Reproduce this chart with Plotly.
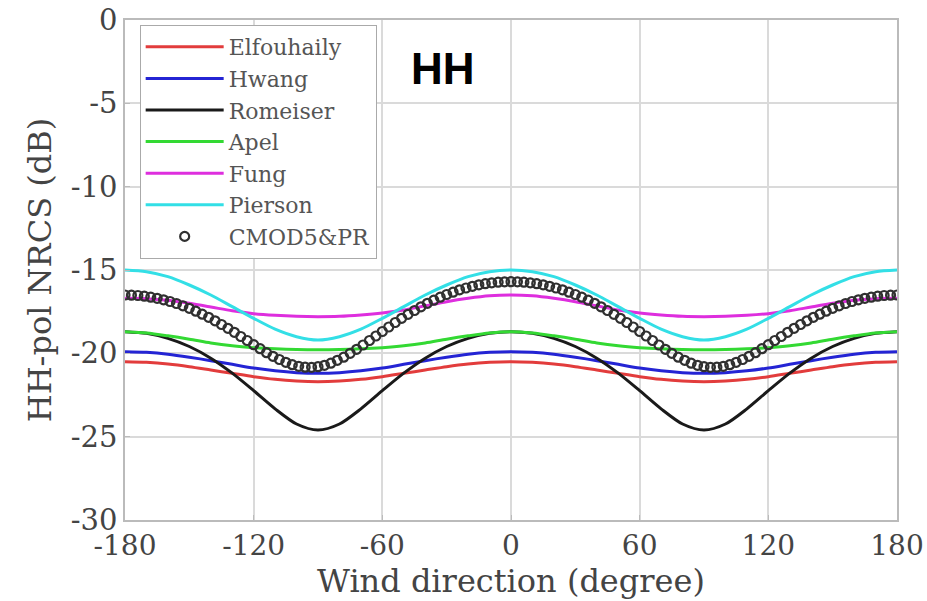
import plotly.graph_objects as go

# ---- data ----
angles_10 = list(range(-180, 181, 10))

elfouhaily = [-20.5, -20.54, -20.64, -20.8, -21.0, -21.2, -21.4, -21.56, -21.66, -21.7,
              -21.66, -21.56, -21.4, -21.2, -21.0, -20.8, -20.64, -20.54, -20.5,
              -20.54, -20.64, -20.8, -21.0, -21.2, -21.4, -21.56, -21.66, -21.7,
              -21.66, -21.56, -21.4, -21.2, -21.0, -20.8, -20.64, -20.54, -20.5]

hwang = [-19.9, -19.94, -20.05, -20.23, -20.44, -20.66, -20.88, -21.05, -21.16, -21.2,
         -21.16, -21.05, -20.88, -20.66, -20.44, -20.23, -20.05, -19.94, -19.9,
         -19.94, -20.05, -20.23, -20.44, -20.66, -20.88, -21.05, -21.16, -21.2,
         -21.16, -21.05, -20.88, -20.66, -20.44, -20.23, -20.05, -19.94, -19.9]

romeiser = [-18.7, -18.8, -19.1, -19.59, -20.29, -21.19, -22.24, -23.33, -24.24, -24.6,
            -24.24, -23.33, -22.24, -21.19, -20.29, -19.59, -19.1, -18.8, -18.7,
            -18.8, -19.1, -19.59, -20.29, -21.19, -22.24, -23.33, -24.24, -24.6,
            -24.24, -23.33, -22.24, -21.19, -20.29, -19.59, -19.1, -18.8, -18.7]

apel = [-18.7, -18.78, -18.95, -19.15, -19.38, -19.55, -19.66, -19.73, -19.77, -19.78,
        -19.77, -19.73, -19.66, -19.55, -19.38, -19.15, -18.95, -18.78, -18.7,
        -18.78, -18.95, -19.15, -19.38, -19.55, -19.66, -19.73, -19.77, -19.78,
        -19.77, -19.73, -19.66, -19.55, -19.38, -19.15, -18.95, -18.78, -18.7]

fung = [-16.7, -16.72, -16.82, -17.0, -17.22, -17.45, -17.62, -17.72, -17.78, -17.8,
        -17.78, -17.7, -17.58, -17.4, -17.15, -16.9, -16.7, -16.55, -16.5,
        -16.55, -16.7, -16.9, -17.15, -17.4, -17.58, -17.7, -17.78, -17.8,
        -17.78, -17.72, -17.62, -17.45, -17.22, -17.0, -16.82, -16.72, -16.7]

pierson = [-15.0, -15.1, -15.4, -15.9, -16.5, -17.2, -17.9, -18.55, -19.0, -19.2,
           -19.0, -18.55, -17.9, -17.2, -16.5, -15.9, -15.4, -15.1, -15.0,
           -15.1, -15.4, -15.9, -16.5, -17.2, -17.9, -18.55, -19.0, -19.2,
           -19.0, -18.55, -17.9, -17.2, -16.5, -15.9, -15.4, -15.1, -15.0]

angles_3 = list(range(-180, 181, 3))

cmod5_pr = [-16.50, -16.51, -16.53, -16.57, -16.63, -16.70, -16.79, -16.89, -17.01, -17.15,
            -17.30, -17.47, -17.65, -17.84, -18.05, -18.27, -18.50, -18.74, -18.99, -19.23,
            -19.48, -19.72, -19.96, -20.18, -20.37, -20.54, -20.68, -20.78, -20.83, -20.84,
            -20.80, -20.72, -20.59, -20.42, -20.23, -20.00, -19.76, -19.50, -19.23, -18.96,
            -18.69, -18.42, -18.15, -17.90, -17.66, -17.43, -17.21, -17.00, -16.81, -16.63,
            -16.47, -16.33, -16.19, -16.08, -15.98, -15.89, -15.82, -15.77, -15.73, -15.71,
            -15.70,
            -15.71, -15.73, -15.77, -15.82, -15.89, -15.98, -16.08, -16.19, -16.33, -16.47,
            -16.63, -16.81, -17.00, -17.21, -17.43, -17.66, -17.90, -18.15, -18.42, -18.69,
            -18.96, -19.23, -19.50, -19.76, -20.00, -20.23, -20.42, -20.59, -20.72, -20.80,
            -20.84, -20.83, -20.78, -20.68, -20.54, -20.37, -20.18, -19.96, -19.72, -19.48,
            -19.23, -18.99, -18.74, -18.50, -18.27, -18.05, -17.84, -17.65, -17.47, -17.30,
            -17.15, -17.01, -16.89, -16.79, -16.70, -16.63, -16.57, -16.53, -16.51, -16.50]

x_ticks = [-180, -120, -60, 0, 60, 120, 180]
y_ticks = [0, -5, -10, -15, -20, -25, -30]

line_series = [
    ("Elfouhaily", elfouhaily, "#e23c3c"),
    ("Hwang", hwang, "#2424d4"),
    ("Romeiser", romeiser, "#1a1a1a"),
    ("Apel", apel, "#33d933"),
    ("Fung", fung, "#de2ede"),
    ("Pierson", pierson, "#33dfe6"),
]

serif = "DejaVu Serif, serif"

fig = go.Figure()
for name, vals, col in line_series:
    fig.add_trace(go.Scatter(
        x=angles_10, y=vals, mode="lines", name=name,
        line=dict(color=col, width=3, shape="spline", smoothing=0.8),
    ))

fig.add_trace(go.Scatter(
    x=angles_3, y=cmod5_pr, mode="markers", name="CMOD5&PR",
    marker=dict(symbol="circle-open", size=9, color="#303030",
                line=dict(width=2.2, color="#303030")),
))

fig.update_layout(
    width=927, height=601,
    margin=dict(l=125, r=30, t=20, b=81),
    paper_bgcolor="white", plot_bgcolor="white",
    showlegend=True,
    legend=dict(
        x=0.019, y=0.99, xanchor="left", yanchor="top",
        bgcolor="white", bordercolor="#aaaaaa", borderwidth=1,
        font=dict(family=serif, size=22, color="#555555"),
        itemwidth=78, tracegroupgap=0,
    ),
    annotations=[dict(
        text="<b>HH</b>", x=0.412, y=0.903, xref="paper", yref="paper",
        xanchor="center", yanchor="middle",
        showarrow=False, font=dict(family="Liberation Sans, Arial, sans-serif", size=44, color="black"),
    )],
)

fig.update_xaxes(
    range=[-180, 180], tickvals=x_ticks, ticktext=[str(v) for v in x_ticks],
    showgrid=True, gridcolor="#dadada", gridwidth=1.5,
    showline=True, linecolor="#bbbbbb", linewidth=1.5, mirror=True,
    ticks="inside", ticklen=5, tickcolor="#bbbbbb",
    zeroline=False, automargin="height", ticklabeloverflow="allow",
    tickfont=dict(family=serif, size=28, color="#444444"),
    title=dict(text="Wind direction (degree)", standoff=4,
               font=dict(family=serif, size=32, color="#444444")),
)
fig.update_yaxes(
    range=[-30, 0], tickvals=y_ticks, ticktext=[str(v) for v in y_ticks],
    showgrid=True, gridcolor="#dadada", gridwidth=1.5,
    showline=True, linecolor="#bbbbbb", linewidth=1.5, mirror=True,
    ticks="inside", ticklen=5, tickcolor="#bbbbbb",
    zeroline=False, automargin="width", ticklabeloverflow="allow",
    tickfont=dict(family=serif, size=29, color="#444444"),
    title=dict(text="HH-pol NRCS (dB)", standoff=10,
               font=dict(family=serif, size=32, color="#444444")),
)

fig.write_html("out.html", config={"displayModeBar": False},
               post_script="document.body.style.margin='0';")
